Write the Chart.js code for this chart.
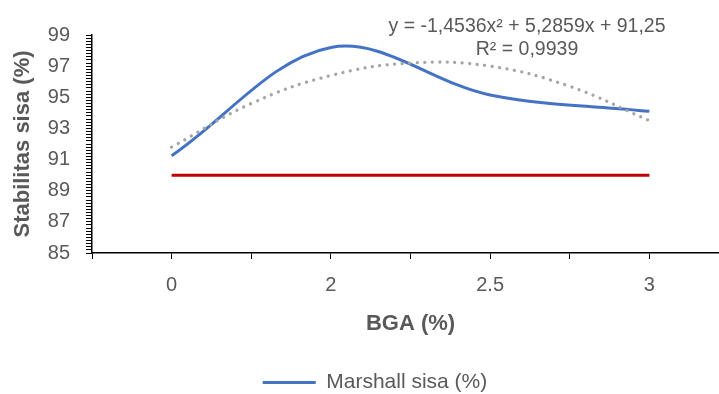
<!DOCTYPE html>
<html>
<head>
<meta charset="utf-8">
<script src="https://cdn.jsdelivr.net/npm/chart.js@4.4.1/dist/chart.umd.min.js"></script>
<style>
    html, body { margin: 0; padding: 0; background: #fff; }
    /* grafik asli terpotong di kanan, jadi kanvas sedikit lebih lebar */
    #wrap { width: 719px; height: 394px; overflow: hidden; }
    canvas { display: block; }
</style>
</head>
<body>
<div id="wrap"><canvas id="chart" width="750" height="403"></canvas></div>
<script>
// kadar BGA (%) pada sumbu X
const categories = ['0', '2', '2.5', '3'];
// Marshall sisa (%)
const marshallSisa = [91.25, 98.2, 95.15, 94.1];
// batas minimum 90%
const batasMinimum = [90, 90, 90, 90];
// garis tren polinomial, dibaca dari gambar tiap setengah kategori
const trendPos = [0, 0.5, 1, 1.5, 2, 2.5, 3];
const trendValues = [91.8, 94.6, 96.4, 97.2, 97.0, 95.7, 93.5];
const yTickLabels = [85, 87, 89, 91, 93, 95, 97, 99];
const trendEquation = ['y = -1,4536x² + 5,2859x + 91,25', 'R² = 0,9939'];

const FONT = '"Liberation Sans", Arial, sans-serif';
const TEXT_COLOR = '#595959';

// teks persamaan trendline
const trendLabel = {
    id: 'trendLabel',
    afterDatasetsDraw(chart) {
        const ctx = chart.ctx;
        ctx.save();
        ctx.font = '19.5px ' + FONT;
        ctx.fillStyle = TEXT_COLOR;
        ctx.textAlign = 'center';
        ctx.textBaseline = 'alphabetic';
        ctx.fillText(trendEquation[0], 527, 32);
        ctx.fillText(trendEquation[1], 527, 55);
        ctx.restore();
    }
};

const ctx = document.getElementById('chart').getContext('2d');
new Chart(ctx, {
    type: 'line',
    data: {
        datasets: [{
            label: 'Marshall sisa (%)',
            data: categories.map((c, i) => ({ x: i, y: marshallSisa[i] })),
            borderColor: '#4472C4',
            backgroundColor: '#4472C4',
            borderWidth: 3,
            tension: 0.35,
            pointRadius: 0,
            order: 2
        }, {
            label: 'Batas',
            data: categories.map((c, i) => ({ x: i, y: batasMinimum[i] })),
            borderColor: '#C00000',
            backgroundColor: '#C00000',
            borderWidth: 3,
            pointRadius: 0,
            order: 3
        }, {
            label: 'Poly. (Marshall sisa (%))',
            data: trendPos.map((p, i) => ({ x: p, y: trendValues[i] })),
            borderColor: '#A5A5A5',
            borderWidth: 3.3,
            borderDash: [0.01, 7.5],
            borderCapStyle: 'round',
            tension: 0.4,
            pointRadius: 0,
            order: 1
        }]
    },
    options: {
        responsive: false,
        animation: false,
        layout: {
            padding: { top: 35, right: 0, left: 0, bottom: 0 }
        },
        plugins: {
            tooltip: { enabled: false },
            legend: {
                position: 'bottom',
                labels: {
                    filter: item => item.datasetIndex === 0,
                    usePointStyle: true,
                    pointStyle: 'line',
                    pointStyleWidth: 53,
                    padding: 35,
                    color: TEXT_COLOR,
                    font: { family: FONT, size: 21 }
                }
            }
        },
        scales: {
            x: {
                type: 'linear',
                min: -0.5,
                max: 3.5,
                afterFit: scale => { scale.height = 84; },
                grid: {
                    drawOnChartArea: false,
                    drawTicks: true,
                    tickLength: 6,
                    color: '#000'
                },
                border: { display: true, color: '#000', width: 1.5 },
                ticks: {
                    stepSize: 0.5,
                    autoSkip: false,
                    maxRotation: 0,
                    includeBounds: false,
                    padding: 14,
                    color: TEXT_COLOR,
                    font: { family: FONT, size: 20 },
                    callback: v => Number.isInteger(v) && categories[v] !== undefined ? categories[v] : ''
                },
                title: {
                    display: true,
                    text: 'BGA (%)',
                    color: TEXT_COLOR,
                    padding: { top: 0, bottom: 0 },
                    font: { family: FONT, size: 22, weight: 'bold' }
                }
            },
            y: {
                min: 85,
                max: 99,
                afterFit: scale => { scale.width = 92; },
                grid: {
                    drawOnChartArea: false,
                    drawTicks: true,
                    tickLength: 6,
                    color: '#000'
                },
                border: { display: true, color: '#000', width: 1.5 },
                ticks: {
                    count: 71,          // tanda kecil tiap 0,2
                    autoSkip: false,
                    padding: 16,
                    color: TEXT_COLOR,
                    font: { family: FONT, size: 20 },
                    callback: v => {
                        const r = Math.round(v);
                        return Math.abs(v - r) < 1e-6 && yTickLabels.includes(r) ? String(r) : '';
                    }
                },
                title: {
                    display: true,
                    text: 'Stabilitas sisa (%)',
                    color: TEXT_COLOR,
                    padding: { top: 10, bottom: 0 },
                    font: { family: FONT, size: 22, weight: 'bold' }
                }
            },
            // sumbu kosong di kanan, hanya untuk memberi ruang
            yKanan: {
                position: 'right',
                min: 85,
                max: 99,
                afterFit: scale => { scale.width = 21; },
                grid: { display: false },
                border: { display: false },
                ticks: { display: false }
            }
        }
    },
    plugins: [trendLabel]
});
</script>
</body>
</html>
